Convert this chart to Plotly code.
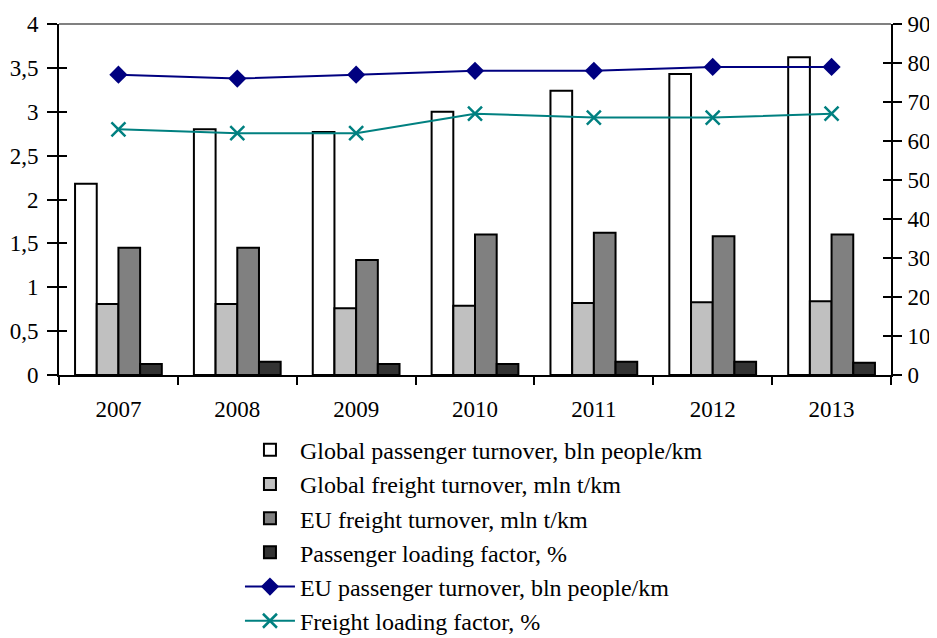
import plotly.graph_objects as go

years = ["2007", "2008", "2009", "2010", "2011", "2012", "2013"]
global_passenger = [2.18, 2.80, 2.77, 3.00, 3.24, 3.43, 3.62]
global_freight = [0.81, 0.81, 0.76, 0.79, 0.82, 0.83, 0.84]
eu_freight = [1.45, 1.45, 1.31, 1.60, 1.62, 1.58, 1.60]
passenger_loading = [0.125, 0.15, 0.125, 0.125, 0.15, 0.15, 0.14]
eu_passenger = [77, 76, 77, 78, 78, 79, 79]
freight_loading = [63, 62, 62, 67, 66, 66, 67]

FONT = "Liberation Serif"
TICKSIZE = 23

fig = go.Figure()
bar_specs = [
    ("Global passenger turnover, bln people/km", global_passenger, "#FFFFFF"),
    ("Global freight turnover, mln t/km", global_freight, "#C0C0C0"),
    ("EU freight turnover, mln t/km", eu_freight, "#808080"),
    ("Passenger loading factor, %", passenger_loading, "#333333"),
]
for i, (name, vals, col) in enumerate(bar_specs):
    fig.add_trace(go.Bar(x=years, y=vals, name=name, legendgroup=f"g{i}",
                         marker=dict(color=col, line=dict(color="black", width=2))))

fig.add_trace(go.Scatter(x=years, y=eu_passenger, name="EU passenger turnover, bln people/km",
                         yaxis="y2", mode="lines+markers", legendgroup="g4",
                         line=dict(color="#000080", width=2),
                         marker=dict(symbol="diamond", size=14, color="#000080")))
fig.add_trace(go.Scatter(x=years, y=freight_loading, name="Freight loading factor, %",
                         yaxis="y2", mode="lines+markers", legendgroup="g5",
                         line=dict(color="#008080", width=2),
                         marker=dict(symbol="x-thin", size=14, color="#008080",
                                     line=dict(color="#008080", width=2.5))))
# helper traces so inner tick axes render
fig.add_trace(go.Scatter(x=[years[0]], y=[None], yaxis="y3", showlegend=False, hoverinfo="skip"))
fig.add_trace(go.Scatter(x=[years[0]], y=[None], yaxis="y4", showlegend=False, hoverinfo="skip"))

axis_common = dict(showline=True, linecolor="black", linewidth=2, tickwidth=2,
                   tickcolor="black", showgrid=False, zeroline=False,
                   tickfont=dict(family=FONT, size=TICKSIZE, color="black"))

fig.update_layout(
    width=929, height=630,
    margin=dict(l=51, r=46, t=16, b=263, autoexpand=False),
    paper_bgcolor="white", plot_bgcolor="white",
    separators=", ",
    font=dict(family=FONT, size=TICKSIZE, color="black"),
    barmode="group", bargap=0.27, bargroupgap=0,
    showlegend=True,
    legend=dict(x=0.2175, y=-0.15, xanchor="left", yanchor="top",
                font=dict(family=FONT, size=24, color="black"),
                tracegroupgap=0, bgcolor="rgba(0,0,0,0)", itemwidth=50),
    xaxis=dict(type="category", ticks="outside", tickson="boundaries", ticklen=8,
               ticklabelstandoff=12, **axis_common),
    yaxis=dict(range=[0, 4], dtick=0.5, ticks="outside", ticklen=10,
               ticklabelstandoff=4, **axis_common),
    yaxis2=dict(range=[0, 90], dtick=10, overlaying="y", side="right",
                ticks="outside", ticklen=9, ticklabelstandoff=1, **axis_common),
    yaxis3=dict(range=[0, 4], dtick=0.5, overlaying="y", side="left",
                ticks="inside", ticklen=8, showticklabels=False, **axis_common),
    yaxis4=dict(range=[0, 90], dtick=10, overlaying="y", side="right",
                ticks="inside", ticklen=8, showticklabels=False, **axis_common),
    shapes=[dict(type="line", xref="paper", yref="paper", x0=0, x1=1, y0=1, y1=1,
                 line=dict(color="#808080", width=2))],
)

fig.write_html("out.html")
